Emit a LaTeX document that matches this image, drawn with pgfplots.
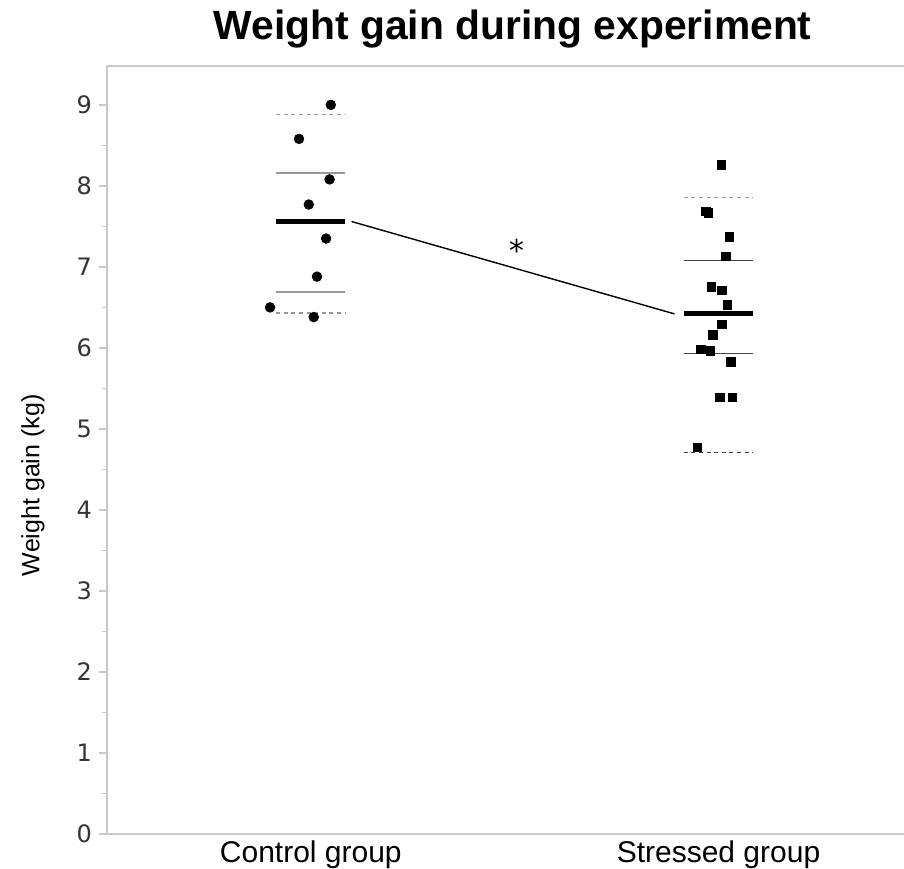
\documentclass[border=0pt]{standalone}
\usepackage{fontspec}
\setmainfont{Liberation Sans}
\newfontfamily\dejavu{DejaVu Sans}
\usepackage{pgfplots}
\pgfplotsset{compat=1.18}

\definecolor{axisgray}{HTML}{C8C8C8}
\definecolor{linegray}{HTML}{999999}
\definecolor{darkline}{HTML}{444444}

\begin{document}
\begin{tikzpicture}
\begin{axis}[
    name=ax,
    scale only axis,
    width=398.5pt, height=384pt,
    xmin=0.5, xmax=2.455,
    ymin=0, ymax=9.48,
    axis x line=box, axis y line=left,
    axis line style={-, draw=axisgray, line width=1pt},
    xtick={1,2},
    xticklabels={Control group, Stressed group},
    xticklabel style={font=\fontsize{15}{18}\selectfont, yshift=4pt},
    major x tick style={draw=none},
    ytick={0,1,...,9},
    minor y tick num=1,
    tick align=outside,
    major tick length=4pt,
    minor tick length=2.5pt,
    y tick style={draw=axisgray, line width=0.8pt},
    yticklabel style={font=\dejavu\fontsize{12}{14}\selectfont, text=black!80, /pgf/number format/assume math mode=true},
    ylabel={Weight gain (kg)},
    ylabel style={at={(axis description cs:-0.0928,0.454)}, anchor=center, font=\fontsize{12.5}{15}\selectfont},
    title={\bfseries Weight gain during experiment},
    title style={at={(axis description cs:0.509,1)}, anchor=base, yshift=7pt, font=\fontsize{20.4}{24}\selectfont},
    clip=false,
]
% control group summary lines
\addplot[linegray, line width=0.6pt, dash pattern=on 2pt off 1.8pt] coordinates {(0.915,8.88) (1.085,8.88)};
\addplot[linegray, line width=1.1pt] coordinates {(0.915,8.16) (1.085,8.16)};
\addplot[black, line width=2.5pt] coordinates {(0.915,7.56) (1.085,7.56)};
\addplot[linegray, line width=1.1pt] coordinates {(0.915,6.69) (1.085,6.69)};
\addplot[linegray, line width=0.6pt, dash pattern=on 2pt off 1.8pt] coordinates {(0.915,6.43) (1.085,6.43)};
% stressed group summary lines
\addplot[linegray, line width=0.6pt, dash pattern=on 2pt off 1.8pt] coordinates {(1.915,7.86) (2.085,7.86)};
\addplot[darkline, line width=0.7pt] coordinates {(1.915,7.08) (2.085,7.08)};
\addplot[black, line width=2.5pt] coordinates {(1.915,6.42) (2.085,6.42)};
\addplot[darkline, line width=0.7pt] coordinates {(1.915,5.93) (2.085,5.93)};
\addplot[darkline, line width=0.6pt, dash pattern=on 2pt off 1.8pt] coordinates {(1.915,4.71) (2.085,4.71)};
% mean connection
\addplot[black, line width=0.7pt] coordinates {(1.10,7.56) (1.892,6.42)};
% control points
\addplot[only marks, mark=*, mark size=2.4pt, black] coordinates {
    (1.049,9.00) (0.971,8.58) (1.046,8.08) (0.995,7.77)
    (1.0375,7.35) (1.015,6.88) (0.900,6.50) (1.007,6.38)
};
% stressed points
\addplot[only marks, mark=square*, mark size=2.15pt, black] coordinates {
    (2.007,8.26) (1.969,7.685) (1.975,7.67) (2.027,7.37) (2.018,7.13)
    (1.983,6.75) (2.009,6.71) (2.022,6.53) (2.008,6.29) (1.986,6.16)
    (1.957,5.98) (1.980,5.96) (2.031,5.83) (2.004,5.39) (2.034,5.39)
    (1.948,4.77)
};
\node[font=\dejavu\fontsize{15}{18}\selectfont] at (axis cs:1.505,7.20) {*};
\end{axis}
\pgfresetboundingbox
\useasboundingbox ([xshift=-53.5pt,yshift=-17.5pt]ax.south west) rectangle ([yshift=33pt]ax.north east);
\end{tikzpicture}
\end{document}
